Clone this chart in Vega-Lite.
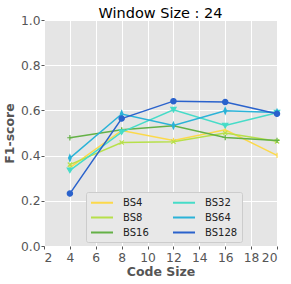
{
  "$schema": "https://vega.github.io/schema/vega-lite/v6.json",
  "autosize": "none",
  "width": 233,
  "height": 226,
  "padding": {"left": 44, "top": 20, "right": 14, "bottom": 38},
  "background": "white",
  "config": {
    "font": "DejaVu Sans",
    "view": {"fill": "#e5e5e5", "stroke": null},
    "axis": {"domain": false, "gridColor": "white", "gridWidth": 1, "tickColor": "#555", "tickSize": 3, "labelColor": "#555", "labelFontSize": 12.3, "titleColor": "#555", "titleFontSize": 12.5, "titleFontWeight": "bold"}
  },
  "title": {"text": "Window Size : 24", "fontSize": 14.5, "fontWeight": "normal", "color": "black", "offset": -7},
  "data": {"values": [
    {"cs": 4, "f1": 0.347, "bs": "BS4"},
    {"cs": 8, "f1": 0.511, "bs": "BS4"},
    {"cs": 12, "f1": 0.467, "bs": "BS4"},
    {"cs": 16, "f1": 0.514, "bs": "BS4"},
    {"cs": 20, "f1": 0.401, "bs": "BS4"},
    {"cs": 4, "f1": 0.36, "bs": "BS8"},
    {"cs": 8, "f1": 0.458, "bs": "BS8"},
    {"cs": 12, "f1": 0.461, "bs": "BS8"},
    {"cs": 16, "f1": 0.5, "bs": "BS8"},
    {"cs": 20, "f1": 0.463, "bs": "BS8"},
    {"cs": 4, "f1": 0.479, "bs": "BS16"},
    {"cs": 8, "f1": 0.514, "bs": "BS16"},
    {"cs": 12, "f1": 0.532, "bs": "BS16"},
    {"cs": 16, "f1": 0.48, "bs": "BS16"},
    {"cs": 20, "f1": 0.467, "bs": "BS16"},
    {"cs": 4, "f1": 0.335, "bs": "BS32"},
    {"cs": 8, "f1": 0.504, "bs": "BS32"},
    {"cs": 12, "f1": 0.603, "bs": "BS32"},
    {"cs": 16, "f1": 0.533, "bs": "BS32"},
    {"cs": 20, "f1": 0.59, "bs": "BS32"},
    {"cs": 4, "f1": 0.389, "bs": "BS64"},
    {"cs": 8, "f1": 0.584, "bs": "BS64"},
    {"cs": 12, "f1": 0.533, "bs": "BS64"},
    {"cs": 16, "f1": 0.598, "bs": "BS64"},
    {"cs": 20, "f1": 0.591, "bs": "BS64"},
    {"cs": 4, "f1": 0.232, "bs": "BS128"},
    {"cs": 8, "f1": 0.564, "bs": "BS128"},
    {"cs": 12, "f1": 0.641, "bs": "BS128"},
    {"cs": 16, "f1": 0.637, "bs": "BS128"},
    {"cs": 20, "f1": 0.585, "bs": "BS128"}
  ]},
  "encoding": {
    "x": {"field": "cs", "type": "quantitative", "title": "Code Size", "scale": {"domain": [2, 20], "nice": false}, "axis": {"values": [2, 4, 6, 8, 10, 12, 14, 16, 18, 20], "titlePadding": 2, "labelPadding": 2, "labelOverlap": false, "labelBound": false}},
    "y": {"field": "f1", "type": "quantitative", "title": "F1-score", "scale": {"domain": [0, 1], "nice": false}, "axis": {"values": [0, 0.2, 0.4, 0.6, 0.8, 1.0], "format": ".1f", "titlePadding": 4, "labelPadding": 1}}
  },
  "layer": [
    {
      "mark": {"type": "line", "strokeWidth": 1.5},
      "encoding": {
        "color": {"field": "bs", "type": "nominal",
          "scale": {"domain": ["BS4", "BS8", "BS16", "BS32", "BS64", "BS128"], "range": ["#fcd94a", "#b7e04a", "#64b146", "#46dcc8", "#2bb3d8", "#2a62cc"]},
          "legend": {"title": null, "orient": "none", "legendX": 42, "legendY": 172, "columns": 2, "direction": "vertical", "symbolType": "M-1,0L3,0", "symbolSize": 121, "symbolStrokeWidth": 2, "labelFontSize": 10, "labelColor": "#222", "fillColor": "#e8e8e8", "strokeColor": "#cccccc", "padding": 4, "rowPadding": 3, "columnPadding": 20, "labelOffset": 20, "cornerRadius": 2}
        }
      }
    },
    {
      "mark": {"type": "point", "filled": false, "size": 28, "strokeWidth": 1.2, "opacity": 1},
      "encoding": {
        "stroke": {"field": "bs", "type": "nominal", "scale": {"domain": ["BS8", "BS4", "BS16", "BS32", "BS64", "BS128"], "range": ["#b7e04a", "#fcd94a", "#64b146", "#46dcc8", "#2bb3d8", "#2a62cc"]}, "legend": null},
        "fill": {"field": "bs", "type": "nominal", "scale": {"domain": ["BS16", "BS4", "BS8", "BS32", "BS64", "BS128"], "range": ["#64b146", "#fcd94a", "#b7e04a", "#46dcc8", "#2bb3d8", "#2a62cc"]}, "legend": null},
        "shape": {"field": "bs", "type": "nominal", "scale": {"domain": ["BS128", "BS64", "BS32", "BS16", "BS8", "BS4"], "range": ["circle", "M0,-1.2L0.5,0L0,1.2L-0.5,0Z", "triangle-down", "M-1,0L1,0M0,-1L0,1", "M-0.8,-0.8L0.8,0.8M-0.8,0.8L0.8,-0.8", "M0,-1L0,1"]}, "legend": null}
      }
    }
  ]
}
